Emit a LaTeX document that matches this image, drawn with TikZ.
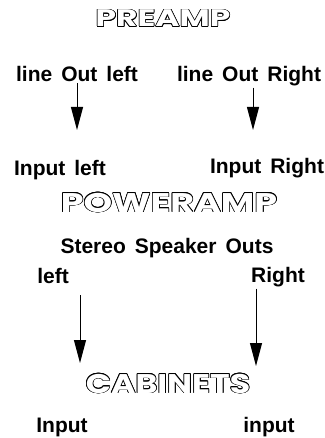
\documentclass[tikz,border=0pt]{standalone}
\usepackage{fontspec}
\setmainfont{Liberation Sans}
\newfontfamily\titlefontA[FakeStretch=1.37]{Poppins}
\newfontfamily\titlefontB[FakeStretch=1.35]{Poppins}
\newfontfamily\titlefontC[FakeStretch=1.23]{Poppins}
\usetikzlibrary{arrows.meta}
\newcommand{\gap}{\hspace{9pt}}
\newcommand{\outl}[4]{%
  \foreach \a in {0,30,...,330}{\node[ttl,font=#3,text=black,shift={(\a:0.7pt)}] at #2 {#4};}
  \node[ttl,font=#3,text=white] (#1) at #2 {#4};}
\begin{document}
\begin{tikzpicture}[x=1pt,y=-1pt,
  lbl/.style={font=\fontsize{21}{24}\selectfont\bfseries, inner sep=0pt, anchor=base},
  ttl/.style={inner sep=0pt, anchor=base},
  arr/.style={line width=1pt, -{Triangle[length=23pt,width=12pt]}}]
\useasboundingbox[fill=white] (0,0) rectangle (324,438);

\outl{preamp}{(163,27)}{\fontsize{24}{26}\selectfont\titlefontA\bfseries}{PREAMP}
\outl{poweramp}{(169,212)}{\fontsize{27}{29}\selectfont\titlefontB\bfseries}{POWERAMP}
\outl{cabinets}{(168,393)}{\fontsize{27}{29}\selectfont\titlefontC\bfseries}{CABINETS}

\node[lbl] (lol) at (77,82) {line\gap Out\gap left};
\node[lbl] (lor) at (249,82) {line\gap Out\gap Right};
\node[lbl] (il) at (60,176) {Input\gap left};
\node[lbl] (ir) at (267,174) {Input\gap Right};
\node[lbl] (sso) at (167,253) {Stereo\gap Speaker\gap Outs};
\node[lbl] (sl) at (53,283) {left};
\node[lbl] (sr) at (278,282) {Right};
\node[lbl] (cl) at (62,432) {Input};
\node[lbl] (cr) at (269,432) {input};

\coordinate (t1) at (77,130);
\coordinate (t2) at (253,130);
\coordinate (t3) at (80,363);
\coordinate (t4) at (256,366);
\draw[arr] (lol.south -| t1) ++(0,1) -- (t1);
\draw[arr] (lor.south -| t2) ++(0,1) -- (t2);
\draw[arr] (sl.south -| t3) ++(0,12) -- (t3);
\draw[arr] (sr.south -| t4) ++(0,2) -- (t4);
\end{tikzpicture}
\end{document}
